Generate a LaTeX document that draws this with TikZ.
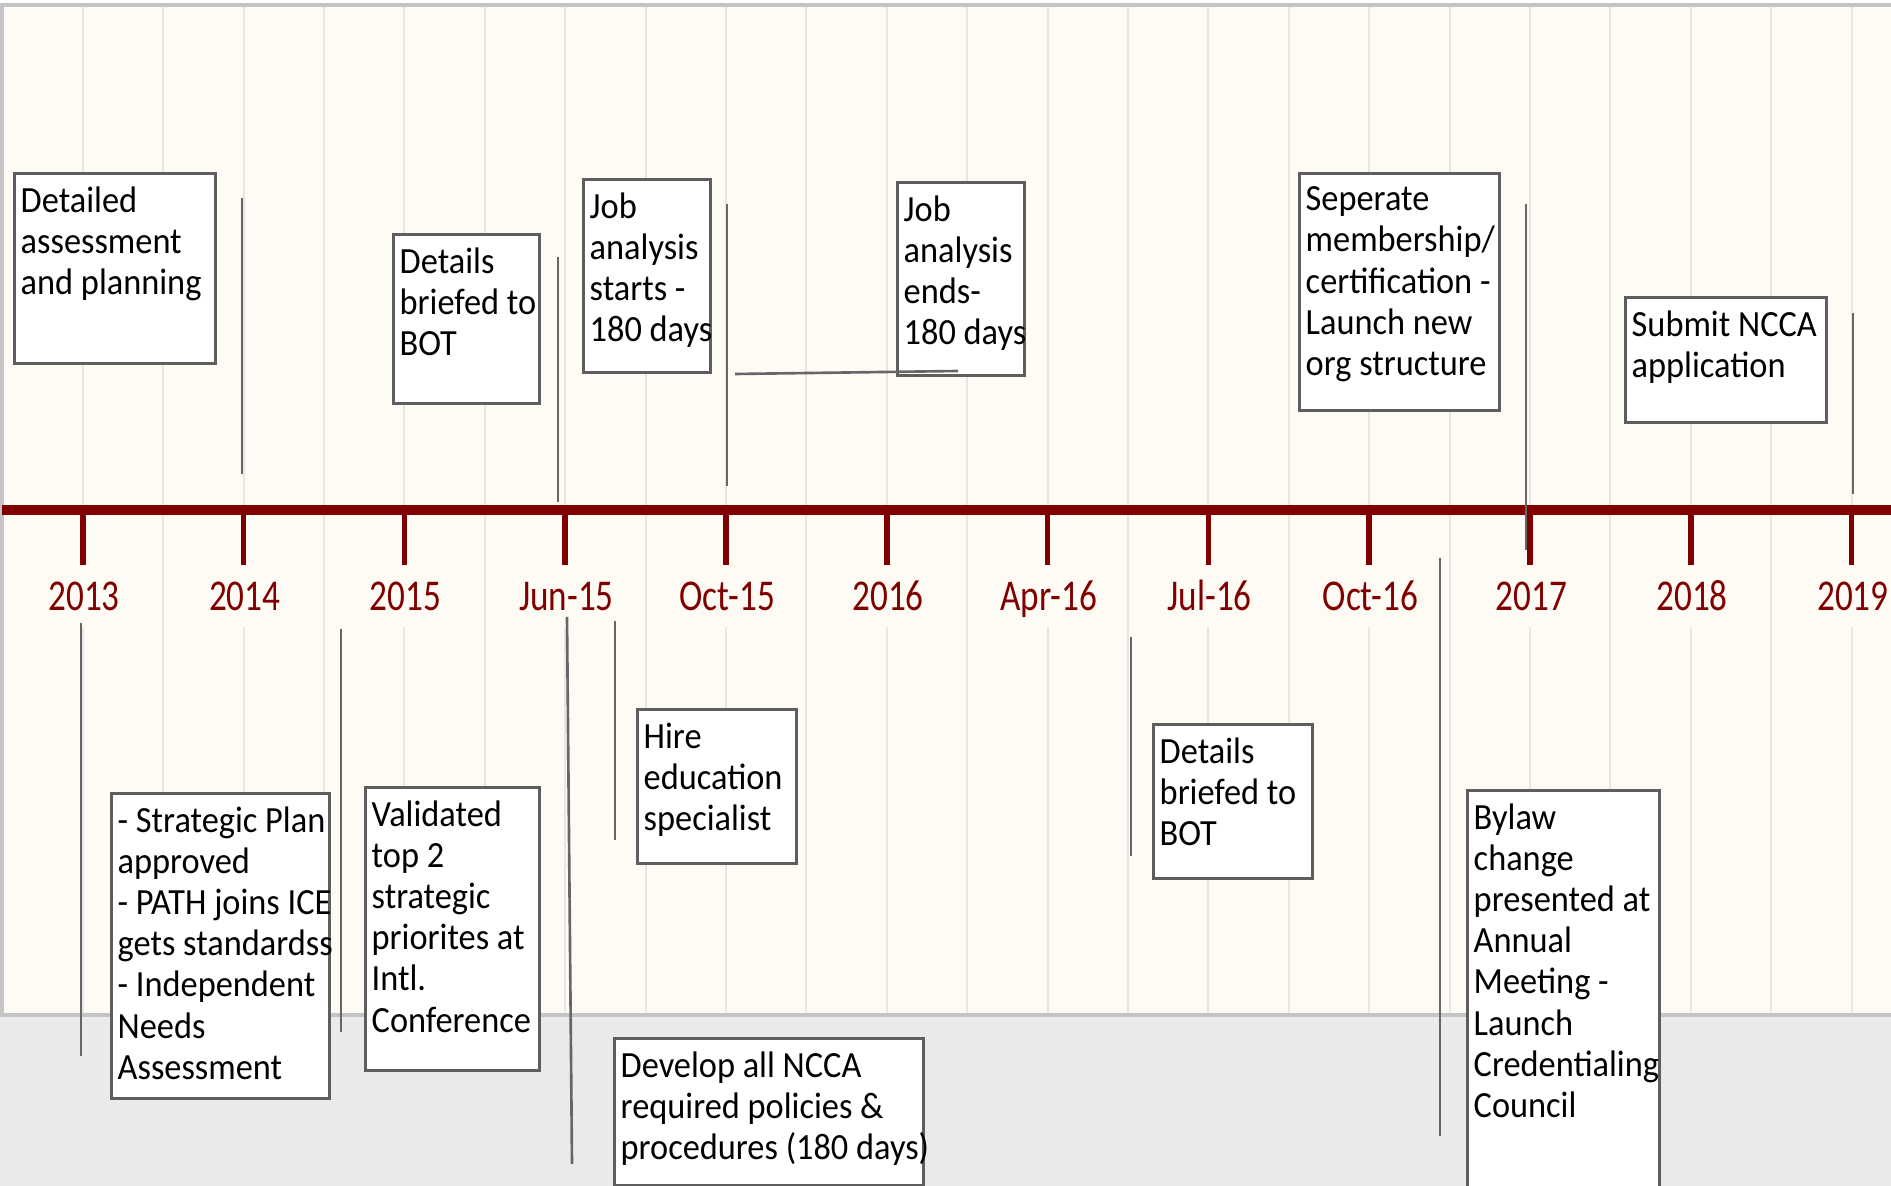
\documentclass[tikz,border=0pt]{standalone}
\usepackage{fontspec}
\setmainfont{Carlito}
\newfontfamily\notefont[FakeStretch=0.93]{Carlito}
\newfontfamily\datefont[FakeStretch=0.8]{Carlito}
\definecolor{axisred}{HTML}{800000}
\definecolor{cream}{HTML}{FDFBF4}
\definecolor{lowgray}{HTML}{EAEAEA}
\definecolor{gridgray}{HTML}{E6E6E6}
\definecolor{edgegray}{HTML}{C4C4C4}
\definecolor{boxgray}{HTML}{5E5E5E}
\definecolor{leadgray}{HTML}{666666}

\begin{document}
\begin{tikzpicture}[x=0.01cm, y=-0.01cm,
  box/.style={draw=boxgray, line width=0.75pt, fill=white, inner sep=0pt, anchor=north west},
  note/.style={anchor=north west, align=left, inner sep=0pt, xshift=0.07cm, yshift=-4.0pt,
    font=\notefont\fontsize{10.5}{11.7}\selectfont, execute at begin node=\strut},
  lead/.style={draw=leadgray, line width=0.75pt}]
  \useasboundingbox (0,0) rectangle (1891,1186);
  \fill[cream] (2,5) rectangle (1891,1015);
  \fill[lowgray] (0,1015) rectangle (1891,1186);
  \foreach \k in {0,...,22}
    \draw[gridgray, line width=0.6pt] ({82.8+80.4*\k},7) -- ({82.8+80.4*\k},1013);
  \draw[edgegray, line width=1.1pt] (1891,5) -- (2,5) -- (2,1015) -- (1891,1015);
  \draw[axisred, line width=2.85pt] (2,510) -- (1891,510);
  \foreach \d [count=\i from 0] in {2013,2014,2015,Jun-15,Oct-15,2016,Apr-16,Jul-16,Oct-16,2017,2018,2019} {
    \draw[axisred, line width=1.55pt] ({82.8+160.8*\i},510) -- ({82.8+160.8*\i},570);
    \node[fill=cream, text=axisred, font=\datefont\fontsize{12.5}{14}\selectfont,
      text height=9.5pt, text depth=1.2pt, inner xsep=1pt, minimum height=0.5cm] (d\i) at ({84+160.8*\i},596) {\d};
  }

  \node[box, minimum width=2.01cm, minimum height=1.9cm] (assess) at (13,172) {};
  \node[note] (assess-t) at (assess.north west) {Detailed\\assessment\\and planning};
  \node[box, minimum width=1.46cm, minimum height=1.69cm] (brief) at (392,233) {};
  \node[note] (brief-t) at (brief.north west) {Details\\briefed to\\BOT};
  \node[box, minimum width=1.27cm, minimum height=1.93cm] (jobstart) at (582,178) {};
  \node[note] (jobstart-t) at (jobstart.north west) {Job\\analysis\\starts -\\180 days};
  \node[box, minimum width=1.27cm, minimum height=1.93cm] (jobend) at (896,181) {};
  \node[note] (jobend-t) at (jobend.north west) {Job\\analysis\\ends-\\180 days};
  \node[box, minimum width=2.0cm, minimum height=2.37cm] (separate) at (1298,172) {};
  \node[note] (separate-t) at (separate.north west) {Seperate\\membership/\\certification -\\Launch new\\org structure};
  \node[box, minimum width=2.01cm, minimum height=1.25cm] (ncca) at (1624,296) {};
  \node[note] (ncca-t) at (ncca.north west) {Submit NCCA\\application};

  \node[box, minimum width=2.18cm, minimum height=3.05cm] (strat) at (110,792) {};
  \node[note] (strat-t) at (strat.north west) {- Strategic Plan\\approved\\- PATH joins ICE\\gets standardss\\- Independent\\Needs\\Assessment};
  \node[box, minimum width=1.74cm, minimum height=2.83cm] (valid) at (364,786) {};
  \node[note] (valid-t) at (valid.north west) {Validated\\top 2\\strategic\\priorites at\\Intl.\\Conference};
  \node[box, minimum width=1.59cm, minimum height=1.54cm] (hire) at (636,708) {};
  \node[note] (hire-t) at (hire.north west) {Hire\\education\\specialist};
  \node[box, minimum width=3.09cm, minimum height=1.47cm] (policies) at (613,1037) {};
  \node[note] (policies-t) at (policies.north west) {Develop all NCCA\\required policies \&\\procedures (180 days)};
  \node[box, minimum width=1.59cm, minimum height=1.54cm] (brieftwo) at (1152,723) {};
  \node[note] (brieftwo-t) at (brieftwo.north west) {Details\\briefed to\\BOT};
  \node[box, minimum width=1.92cm, minimum height=4.2cm] (bylaw) at (1466,789) {};
  \node[note] (bylaw-t) at (bylaw.north west) {Bylaw\\change\\presented at\\Annual\\Meeting -\\Launch\\Credentialing\\Council};

  \draw[lead] (242,198) -- (242,474);
  \draw[lead] (558,257) -- (558,502);
  \draw[lead] (727,204) -- (727,486);
  \draw[lead] (735,374) -- (958,371);
  \draw[lead] (1526,204) -- (1526,550);
  \draw[lead] (1853,313) -- (1853,494);
  \draw[lead] (81,623) -- (81,1056);
  \draw[lead] (341,629) -- (341,1032);
  \draw[lead] (567,617) -- (572,1164);
  \draw[lead] (615,621) -- (615,840);
  \draw[lead] (1131,637) -- (1131,856);
  \draw[lead] (1440,558) -- (1440,1136);
\end{tikzpicture}
\end{document}
